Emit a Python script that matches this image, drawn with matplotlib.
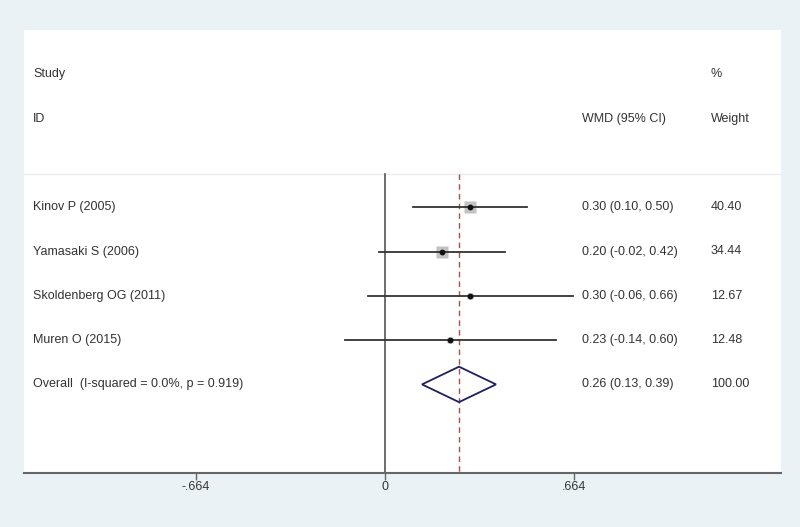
import matplotlib
matplotlib.use("Agg")
import matplotlib.pyplot as plt
import numpy as np
from matplotlib.patches import Polygon

plt.rcParams['font.family'] = ['Liberation Sans', 'DejaVu Sans']

## Data ##
studies = ['Kinov P (2005)', 'Yamasaki S (2006)', 'Skoldenberg OG (2011)', 'Muren O (2015)']
wmd = [0.30, 0.20, 0.30, 0.23]
ci_low = [0.10, -0.02, -0.06, -0.14]
ci_high = [0.50, 0.42, 0.66, 0.60]
weights = [40.40, 34.44, 12.67, 12.48]

overall_label = 'Overall  (I-squared = 0.0%, p = 0.919)'
overall_est, overall_low, overall_high = 0.26, 0.13, 0.39
overall_weight = 100.00

xticks = [-0.664, 0, 0.664]
xtick_labels = ['-.664', '0', '.664']

## Figure ##
bg = '#eaf2f5'
txt = '#333333'
fig = plt.figure(figsize=(8, 5.27), dpi=100, facecolor=bg)
ax = fig.add_axes([24 / 800, 54 / 527, 757 / 800, 443 / 527])
ax.set_facecolor('white')
ax.set_xlim(-1.268, 1.391)
ax.set_ylim(6.0, -4.0)

rows = np.arange(len(studies))
ov_row = len(studies)

# header line and reference lines
ax.axhline(-0.75, color='#ececec', lw=1.0, zorder=1)
ax.plot([0, 0], [-0.75, 6.0], color='#555555', lw=1.2, zorder=2)
ax.plot([overall_est, overall_est], [-0.75, 6.0], color='#a8504e', lw=1.0,
        dashes=(4, 3), zorder=2)

# studies: grey weight boxes, CI lines, point estimates
for y, est, lo, hi, w in zip(rows, wmd, ci_low, ci_high, weights):
    ax.plot(est, y, marker='s', ms=8.6 * np.sqrt(w / weights[0]), color='#c2c2c2',
            mec='none', zorder=3)
    ax.plot([lo, hi], [y, y], color='#333333', lw=1.3, zorder=4)
    ax.plot(est, y, 'o', ms=3.2, color='#111111', zorder=5)

# overall diamond
diamond = Polygon([[overall_low, ov_row], [overall_est, ov_row - 0.4],
                   [overall_high, ov_row], [overall_est, ov_row + 0.4]],
                  closed=True, fill=False, edgecolor='#1f1f5f', lw=1.3, zorder=4)
ax.add_patch(diamond)

# text columns
tr = ax.get_yaxis_transform()
x_study, x_ci, x_w = 0.0119, 0.737, 0.9075
fs = 9
ax.text(x_study, -3, 'Study', transform=tr, fontsize=fs, color=txt, va='center')
ax.text(x_study, -2, 'ID', transform=tr, fontsize=fs, color=txt, va='center')
ax.text(x_ci, -2, 'WMD (95% CI)', transform=tr, fontsize=fs, color=txt, va='center')
ax.text(x_w, -3, '%', transform=tr, fontsize=fs, color=txt, va='center')
ax.text(x_w, -2, 'Weight', transform=tr, fontsize=fs, color=txt, va='center')

for y, name, est, lo, hi, w in zip(rows, studies, wmd, ci_low, ci_high, weights):
    ax.text(x_study, y, name, transform=tr, fontsize=fs, color=txt, va='center')
    ax.text(x_ci, y, f'{est:.2f} ({lo:.2f}, {hi:.2f})', transform=tr, fontsize=fs,
            color=txt, va='center')
    ax.text(x_w, y, f'{w:.2f}', transform=tr, fontsize=fs, color=txt, va='center')

ax.text(x_study, ov_row, overall_label, transform=tr, fontsize=fs, color=txt, va='center')
ax.text(x_ci, ov_row, f'{overall_est:.2f} ({overall_low:.2f}, {overall_high:.2f})',
        transform=tr, fontsize=fs, color=txt, va='center')
ax.text(x_w, ov_row, f'{overall_weight:.2f}', transform=tr, fontsize=fs, color=txt, va='center')

# axes
for s in ['top', 'left', 'right']:
    ax.spines[s].set_visible(False)
ax.spines['bottom'].set_color('#666666')
ax.spines['bottom'].set_linewidth(1.5)
ax.set_yticks([])
ax.set_xticks(xticks)
ax.set_xticklabels(xtick_labels)
ax.tick_params(axis='x', length=5, width=1, color='#666666', labelsize=fs,
               labelcolor=txt, pad=1)

fig.savefig('out.png', dpi=100, facecolor=bg)
